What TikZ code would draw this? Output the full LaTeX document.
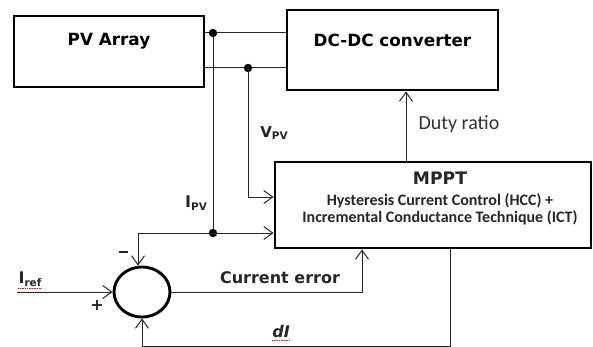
\documentclass[tikz,border=0pt]{standalone}
\usepackage{fontspec}
\setmainfont{Carlito}
\newfontfamily\dvs{DejaVu Sans}[Ligatures=TeX]
\usepackage{tikz}
\usetikzlibrary{arrows.meta,positioning,shapes.geometric,calc}
\newcommand{\subtxt}[1]{\raisebox{-2.5pt}{\fontsize{10.5}{12}\selectfont #1}}

\begin{document}
\begin{tikzpicture}[
  x=1pt, y=-1pt,
  block/.style={rectangle, draw=black, line width=2.9pt, inner sep=0pt,
               font={\dvs\bfseries\fontsize{16.8}{20}\selectfont}},
  lbl/.style={inner sep=0pt, text=black!85,
               font={\dvs\bfseries\fontsize{16}{19}\selectfont}},
  plain/.style={inner sep=0pt, text=black!80,
               font={\fontsize{20}{24}\selectfont}},
  desc/.style={inner sep=0pt, align=center, text=black!85,
               font={\bfseries\fontsize{16}{17}\selectfont}},
  sumnode/.style={ellipse, draw=black, line width=2.9pt,
               minimum width=56pt, minimum height=50pt},
  wire/.style={line width=1pt, draw=black!85},
  signal/.style={wire, -{Straight Barb[length=9pt,width=13pt]}},
  spell/.style={draw=red, line width=0.7pt, densely dotted},
]
\useasboundingbox (0,0) rectangle (593,347);

% Blocks
\node[block, minimum width=190pt, text height=30pt, text depth=41pt] (pv) at (109,51.5) {PV Array};
\node[block, minimum width=211pt, text height=37pt, text depth=43pt] (dcdc) at (392.5,50) {DC-DC converter};
\node[block, minimum width=316pt, minimum height=86pt] (mppt) at (433,205) {};
\node[lbl, anchor=north, font={\dvs\bfseries\fontsize{17.2}{20}\selectfont}] (mpptname) at ([xshift=7pt,yshift=-11pt]mppt.north) {MPPT};
\node[desc, below=9pt of mpptname] (mpptdesc) {Hysteresis Current Control (HCC) +\\Incremental Conductance Technique (ICT)};
\node[sumnode] (sum) at (142,292) {};

% Junctions
\coordinate (j1) at (213,33);
\coordinate (j2) at (248,68);
\coordinate (j3) at ([yshift=-28pt]mppt.west -| j1);
\coordinate (iin) at (17,292);
\coordinate (fb) at (142,346);

% Power lines
\draw[wire] (pv.east |- j1) -- (dcdc.west |- j1);
\draw[wire] (pv.east |- j2) -- (dcdc.west |- j2);
\draw[wire] (j1) -- (j3);
\fill (j1) circle (4.2pt);
\fill (j2) circle (4.2pt);
\fill (j3) circle (4.2pt);

% Signals
\draw[signal] (j2) |- ([yshift=8pt]mppt.west);
\draw[signal] (j3) -- (j3 -| mppt.west);
\draw[signal] (j3) -| ([xshift=-4pt]sum.north);
\draw[signal] (iin) -- (sum.west);
\draw[signal] (sum.east) -| ([xshift=-71pt]mppt.south);
\draw[signal] ([xshift=17pt]mppt.south) |- (fb) -- (sum.south);
\draw[signal] ([xshift=-27pt]mppt.north) -- ([xshift=-27pt]mppt.north |- dcdc.south);

% Labels
\node[plain] (duty) at (459,124) {Duty ratio};
\node[lbl, font={\dvs\bfseries\fontsize{15}{18}\selectfont}] (vpv) at (274,133) {V\subtxt{PV}};
\node[lbl] (ipv) at (196,203) {I\subtxt{PV}};
\node[lbl] (iref) at (30,279) {I\subtxt{ref}};
\node[lbl, font={\dvs\bfseries\itshape\fontsize{16}{19}\selectfont}] (di) at (281,332) {dI};
\node[lbl] (err) at (280,278) {Current error};
\node[lbl] (plus) at (97,305) {+};
\node[lbl] (minus) at (123,252) {\rule{9pt}{2.2pt}};
\draw[spell] ([yshift=-2pt]iref.south west) -- ([yshift=-2pt]iref.south east);
\draw[spell] ([yshift=-2pt]di.south west) -- ([yshift=-2pt]di.south east);
\end{tikzpicture}
\end{document}
